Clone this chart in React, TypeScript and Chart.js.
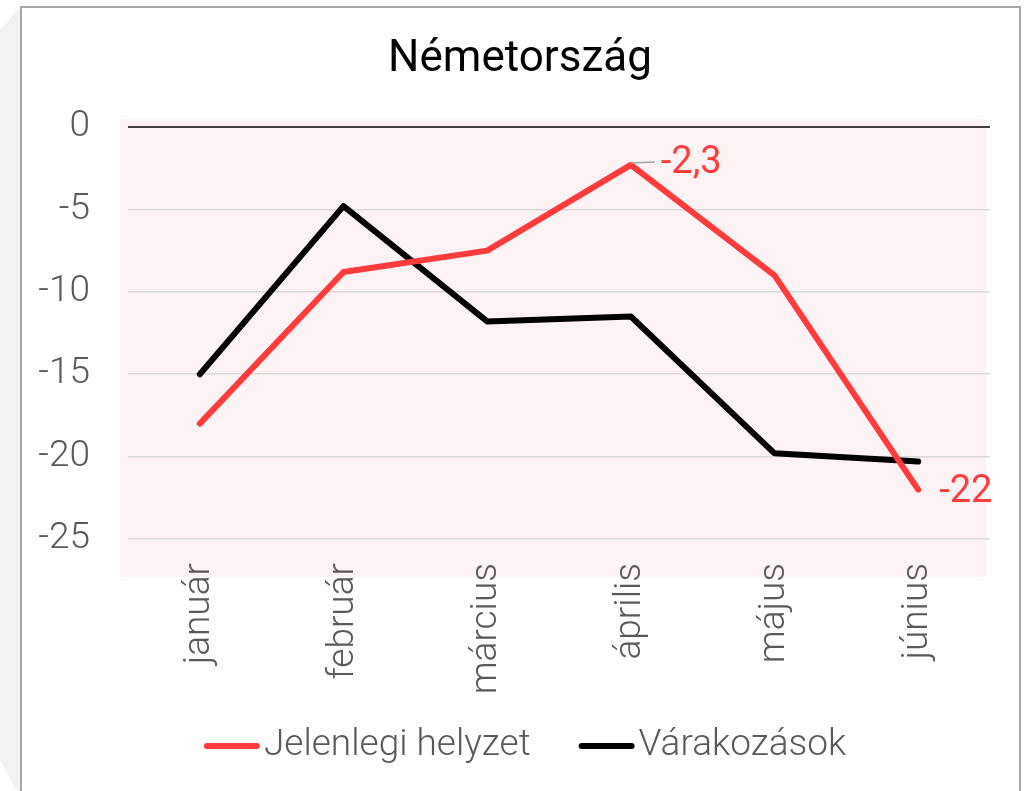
import React, { useEffect, useRef } from "react";
import { Chart, registerables } from "chart.js";

Chart.register(...registerables);

const chartTitle = "Németország";
const months = ["január", "február", "március", "április", "május", "június"];
const currentLabel = "Jelenlegi helyzet";
const currentValues = [-18, -8.8, -7.5, -2.3, -9.0, -22];
const expectLabel = "Várakozások";
const expectValues = [-15, -4.8, -11.8, -11.5, -19.8, -20.3];
const yTicks = [0, -5, -10, -15, -20, -25];
const labelledPoints = [3, 5];

const RED = "#FF3B3B";
const BLACK = "#000000";
const GRAY_TEXT = "#595959";
const FONT = "Roboto";

const fmt = (v: number) => String(v).replace(".", ",");

export default function App() {
  const ref = useRef<HTMLCanvasElement | null>(null);

  useEffect(() => {
    if (!ref.current) return;

    const bgPlugin = {
      id: "plotBg",
      beforeDraw(chart: any) {
        const { ctx, chartArea: a } = chart;
        ctx.save();
        ctx.fillStyle = "#FDF3F4";
        ctx.fillRect(a.left - 8, a.top - 8, a.width + 4, a.height + 46);
        ctx.restore();
      },
    };

    const titlePlugin = {
      id: "customTitle",
      afterDraw(chart: any) {
        const { ctx } = chart;
        ctx.save();
        ctx.font = `400 44px ${FONT}`;
        ctx.fillStyle = "#000000";
        ctx.textAlign = "center";
        ctx.textBaseline = "middle";
        ctx.fillText(chartTitle, 520, 60);
        ctx.restore();
      },
    };

    const labelPlugin = {
      id: "valueLabels",
      afterDatasetsDraw(chart: any) {
        const { ctx } = chart;
        const meta = chart.getDatasetMeta(0);
        ctx.save();
        ctx.font = `400 38px ${FONT}`;
        ctx.fillStyle = RED;
        ctx.textBaseline = "middle";
        ctx.textAlign = "left";
        labelledPoints.forEach((i, k) => {
          const p = meta.data[i];
          const v = currentValues[i];
          if (k === 0) {
            ctx.strokeStyle = "#A6A6A6";
            ctx.lineWidth = 1.5;
            ctx.beginPath();
            ctx.moveTo(p.x, p.y - 2);
            ctx.lineTo(p.x + 24, p.y - 3);
            ctx.stroke();
            ctx.fillText(fmt(v), p.x + 30, p.y - 1);
          } else {
            ctx.fillText(fmt(v), p.x + 21, p.y + 3);
          }
        });
        ctx.restore();
      },
    };

    const legendPlugin = {
      id: "customLegend",
      afterDraw(chart: any) {
        const { ctx } = chart;
        const items = chart.data.datasets.map((d: any) => ({ text: d.label, color: d.borderColor }));
        ctx.save();
        ctx.font = `300 37px ${FONT}`;
        ctx.textBaseline = "middle";
        const sw = 56, gapBox = 4, gapItem = 48;
        const widths = items.map((it: any) => sw + gapBox + ctx.measureText(it.text).width);
        const total = widths.reduce((s: number, w: number) => s + w, 0) + gapItem * (items.length - 1);
        let x = 525 - total / 2;
        const y = 746;
        items.forEach((it: any, i: number) => {
          ctx.strokeStyle = it.color;
          ctx.lineWidth = 6;
          ctx.lineCap = "round";
          ctx.beginPath();
          ctx.moveTo(x + 3, y);
          ctx.lineTo(x + sw - 3, y);
          ctx.stroke();
          ctx.fillStyle = GRAY_TEXT;
          ctx.fillText(it.text, x + sw + gapBox, y);
          x += widths[i] + gapItem;
        });
        ctx.restore();
      },
    };

    const chart = new Chart(ref.current, {
      type: "line",
      data: {
        labels: months,
        datasets: [
          {
            label: currentLabel,
            data: currentValues,
            borderColor: RED,
            backgroundColor: RED,
            borderWidth: 6,
            pointRadius: 0,
            tension: 0,
            borderCapStyle: "round",
            borderJoinStyle: "round",
          },
          {
            label: expectLabel,
            data: expectValues,
            borderColor: BLACK,
            backgroundColor: BLACK,
            borderWidth: 6,
            pointRadius: 0,
            tension: 0,
            borderCapStyle: "round",
            borderJoinStyle: "round",
          },
        ],
      },
      options: {
        responsive: false,
        animation: false,
        layout: { padding: { left: 0, right: 35, top: 127, bottom: 0 } },
        plugins: {
          legend: { display: false },
          tooltip: { enabled: false },
          title: { display: false },
        },
        scales: {
          x: {
            offset: true,
            grid: { display: false, drawTicks: false },
            border: { display: false },
            ticks: {
              color: GRAY_TEXT,
              font: { family: FONT, size: 37, weight: "300" },
              minRotation: 90,
              maxRotation: 90,
              padding: 24,
              autoSkip: false,
            },
            afterFit(scale: any) {
              scale.height = 252;
            },
          },
          y: {
            min: -25,
            max: 0,
            afterBuildTicks(scale: any) {
              scale.ticks = yTicks.map((v) => ({ value: v }));
            },
            grid: {
              drawTicks: false,
              color: (c: any) => (c.tick && c.tick.value === 0 ? "#404040" : "#D9D9D9"),
              lineWidth: (c: any) => (c.tick && c.tick.value === 0 ? 2 : 1.5),
            },
            border: { display: false },
            ticks: {
              color: GRAY_TEXT,
              font: { family: FONT, size: 37, weight: "300" },
              padding: 38,
              callback: (v: any) => fmt(Number(v)),
            },
            afterFit(scale: any) {
              scale.width = 128;
            },
          },
        },
      },
      plugins: [bgPlugin, titlePlugin, labelPlugin, legendPlugin],
    } as any);

    return () => chart.destroy();
  }, []);

  return (
    <div style={{ position: "fixed", left: 0, top: 0, width: 1025, height: 791, background: "#FFFFFF", overflow: "hidden" }}>
      <div
        style={{
          position: "absolute",
          left: 0,
          top: 0,
          width: 21,
          height: 791,
          background: "#F2F2F2",
          clipPath: "polygon(0px 30px, 21px 6px, 21px 791px, 17px 791px, 0px 760px)",
        }}
      />
      <div
        style={{
          position: "absolute",
          left: 20,
          top: 6,
          width: 1001,
          height: 820,
          border: "2px solid #A6A6A6",
          boxSizing: "border-box",
          background: "#FFFFFF",
        }}
      />
      <canvas ref={ref} width={1025} height={791} style={{ position: "absolute", left: 0, top: 0 }} />
    </div>
  );
}
